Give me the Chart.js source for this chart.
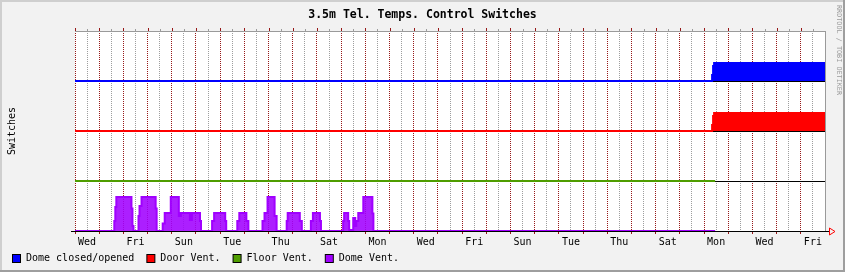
<!DOCTYPE html>
<html>
<head>
<meta charset="utf-8">
<title>3.5m Tel. Temps. Control Switches</title>
<script src="https://cdn.jsdelivr.net/npm/chart.js@4.4.1/dist/chart.umd.min.js"></script>
<style>
  html, body { margin: 0; padding: 0; background: #f2f2f2; }
  canvas { display: block; }
</style>
</head>
<body>
<canvas id="switchChart" width="845" height="272"></canvas>
<script>
// x axis is in hours from the left edge of the graph (31 days)
const dayLabels = ['Wed', 'Fri', 'Sun', 'Tue', 'Thu', 'Sat', 'Mon', 'Wed', 'Fri', 'Sun', 'Tue', 'Thu', 'Sat', 'Mon', 'Wed', 'Fri'];
const labelHours = [12, 60, 108, 156, 204, 252, 300, 348, 396, 444, 492, 540, 588, 636, 684, 732];

const seriesNames = ['Dome closed/opened', 'Door Vent.', 'Floor Vent.', 'Dome Vent.'];
const seriesColors = ['#0000ff', '#ff0000', '#4f9d00', '#a000ff'];
const bandBase = [3, 2, 1, 0];   // each switch gets its own band

// step points: value holds until the next hour in the list
const domeHours = [0, 632, 633, 634, 744];
const domeLevels = [0, 0.12, 0.3, 0.36, 0.36];

const doorHours = [0, 632, 633, 634, 744];
const doorLevels = [0, 0.12, 0.3, 0.36, 0.36];

const floorHours = [0, 635];
const floorLevels = [0, 0];

const ventHours = [0, 39, 40, 41, 56, 57, 58, 63, 64, 66, 80, 81, 87, 89, 95, 103, 105, 114, 116, 124, 125,
  136, 138, 149, 150, 161, 163, 170, 172, 186, 188, 191, 198, 200, 210, 211, 223, 225, 234, 236, 243, 244,
  266, 267, 271, 272, 276, 278, 279, 281, 286, 295, 296, 635];
const ventLevels = [0, 0.2, 0.48, 0.68, 0.45, 0.1, 0, 0.3, 0.5, 0.68, 0.45, 0, 0.15, 0.36, 0.68, 0.3, 0.36, 0.22, 0.36, 0.2, 0,
  0.2, 0.36, 0.2, 0, 0.2, 0.36, 0.2, 0, 0.2, 0.36, 0.68, 0.3, 0, 0.2, 0.36, 0.2, 0, 0.2, 0.36, 0.2, 0,
  0.2, 0.36, 0.2, 0.02, 0.26, 0.1, 0.2, 0.36, 0.68, 0.35, 0, 0];

const monoFont = 'DejaVu Sans Mono';
const majorGrid = 'rgba(140, 0, 0, 0.9)';
const minorGrid = 'rgba(140, 140, 140, 0.85)';

function toPoints(hours, levels, base) {
    return hours.map((h, i) => ({ x: h, y: base + levels[i] }));
}

function makeSet(i, hours, levels, fillColor) {
    return {
        label: seriesNames[i],
        data: toPoints(hours, levels, bandBase[i]),
        stepped: true,
        borderColor: seriesColors[i],
        backgroundColor: fillColor,
        borderWidth: 2,
        pointRadius: 0,
        fill: { value: bandBase[i] }
    };
}

// background, frame, arrow, legend and the little watermark (rrdtool look)
const rrdDecor = {
    id: 'rrdDecor',
    beforeDraw(chart) {
        const ctx = chart.ctx;
        const a = chart.chartArea;
        ctx.save();
        ctx.fillStyle = '#f2f2f2';
        ctx.fillRect(0, 0, chart.width, chart.height);
        ctx.fillStyle = '#cfcfcf';
        ctx.fillRect(0, 0, chart.width, 2);
        ctx.fillRect(0, 0, 2, chart.height);
        ctx.fillStyle = '#9e9e9e';
        ctx.fillRect(chart.width - 2, 0, 2, chart.height);
        ctx.fillRect(0, chart.height - 2, chart.width, 2);
        ctx.fillStyle = '#ffffff';
        ctx.fillRect(a.left, a.top, a.right - a.left, a.bottom - a.top);
        ctx.restore();
    },
    afterDraw(chart) {
        const ctx = chart.ctx;
        const a = chart.chartArea;
        const xs = chart.scales.x;
        ctx.save();
        // small ticks above the top frame
        ctx.lineWidth = 1;
        xs.ticks.forEach(t => {
            if (t.value >= 744) return;
            const px = Math.round(xs.getPixelForValue(t.value)) + 0.5;
            const major = t.value % 24 === 0;
            ctx.strokeStyle = major ? majorGrid : minorGrid;
            ctx.beginPath();
            ctx.moveTo(px, a.top - (major ? 3 : 2));
            ctx.lineTo(px, a.top);
            ctx.stroke();
        });
        // right frame
        ctx.strokeStyle = '#9a9a9a';
        ctx.beginPath();
        ctx.moveTo(a.right + 0.5, a.top);
        ctx.lineTo(a.right + 0.5, a.bottom);
        ctx.stroke();
        // axis arrow
        ctx.strokeStyle = '#000';
        ctx.beginPath();
        ctx.moveTo(a.right, a.bottom + 0.5);
        ctx.lineTo(a.right + 4, a.bottom + 0.5);
        ctx.stroke();
        ctx.strokeStyle = '#ff0000';
        ctx.beginPath();
        ctx.moveTo(a.right + 4.5, a.bottom - 3);
        ctx.lineTo(a.right + 10, a.bottom + 0.5);
        ctx.lineTo(a.right + 4.5, a.bottom + 4);
        ctx.closePath();
        ctx.stroke();

        // legend row at the bottom
        ctx.font = '10px "' + monoFont + '"';
        ctx.textBaseline = 'middle';
        let lx = 12;
        const ly = 254;
        seriesNames.forEach((name, i) => {
            ctx.fillStyle = seriesColors[i];
            ctx.fillRect(lx + 0.5, ly + 0.5, 8, 8);
            ctx.strokeStyle = '#000';
            ctx.strokeRect(lx + 0.5, ly + 0.5, 8, 8);
            ctx.fillStyle = '#000';
            ctx.fillText(name, lx + 14, ly + 4.5);
            lx += 14 + ctx.measureText(name).width + 12;
        });

        // watermark
        ctx.translate(chart.width - 6, 5);
        ctx.rotate(Math.PI / 2);
        ctx.fillStyle = '#9a9a9a';
        ctx.font = '6.8px "' + monoFont + '"';
        ctx.textBaseline = 'middle';
        ctx.fillText('RRDTOOL / TOBI OETIKER', 0, 0);
        ctx.restore();
    }
};

let chart;

function crearGrafica() {
    const ctx = document.getElementById('switchChart').getContext('2d');
    chart = new Chart(ctx, {
        type: 'line',
        data: {
            datasets: [
                makeSet(0, domeHours, domeLevels, '#0000ff'),
                makeSet(1, doorHours, doorLevels, '#ff0000'),
                makeSet(2, floorHours, floorLevels, '#4f9d00'),
                makeSet(3, ventHours, ventLevels, 'rgba(160, 0, 255, 0.88)')
            ]
        },
        options: {
            responsive: false,
            animation: false,
            devicePixelRatio: 1,
            layout: { padding: { left: 0, right: 0, top: 0, bottom: 24 } },
            plugins: {
                tooltip: { enabled: false },
                legend: { display: false },
                title: {
                    display: true,
                    text: '3.5m Tel. Temps. Control Switches',
                    color: '#000',
                    font: { family: monoFont, size: 11.5, weight: 'bold' },
                    padding: { top: 8, bottom: 9.2 }
                }
            },
            scales: {
                x: {
                    type: 'linear',
                    min: 0,
                    max: 744,
                    ticks: {
                        stepSize: 12,
                        autoSkip: false,
                        maxRotation: 0,
                        padding: 2,
                        color: '#000',
                        font: { family: monoFont, size: 10 },
                        callback: (v) => {
                            const idx = labelHours.indexOf(v);
                            return idx >= 0 ? dayLabels[idx] : '';
                        }
                    },
                    grid: {
                        lineWidth: 1,
                        tickLength: 3,
                        color: (c) => {
                            const v = c.tick.value;
                            if (v >= 744) return 'rgba(0,0,0,0)';
                            return v % 24 === 0 ? majorGrid : minorGrid;
                        },
                        tickColor: (c) => (c.tick.value % 24 === 0 && c.tick.value < 744) ? majorGrid : 'rgba(0,0,0,0)'
                    },
                    border: { display: false, dash: [1, 1] },
                    afterFit: (s) => { s.height = 17; }
                },
                y: {
                    type: 'linear',
                    min: 0,
                    max: 4,
                    z: 1,
                    ticks: { display: false, stepSize: 1 },
                    grid: {
                        lineWidth: 1,
                        tickLength: 4,
                        color: (c) => c.tick.value === 4 ? '#9a9a9a' : '#000',
                        tickColor: (c) => c.tick.value === 0 ? '#000' : 'rgba(0,0,0,0)'
                    },
                    border: { display: false },
                    title: {
                        display: true,
                        text: 'Switches',
                        color: '#000',
                        font: { family: monoFont, size: 10 },
                        padding: { top: 6, bottom: 0 }
                    },
                    afterFit: (s) => { s.width = 75; }
                },
                yr: {
                    type: 'linear',
                    position: 'right',
                    display: true,
                    ticks: { display: false },
                    grid: { display: false },
                    border: { display: false },
                    afterFit: (s) => { s.width = 20; }
                }
            }
        },
        plugins: [rrdDecor]
    });
}

document.addEventListener('DOMContentLoaded', function() {
    crearGrafica();
});
</script>
</body>
</html>
